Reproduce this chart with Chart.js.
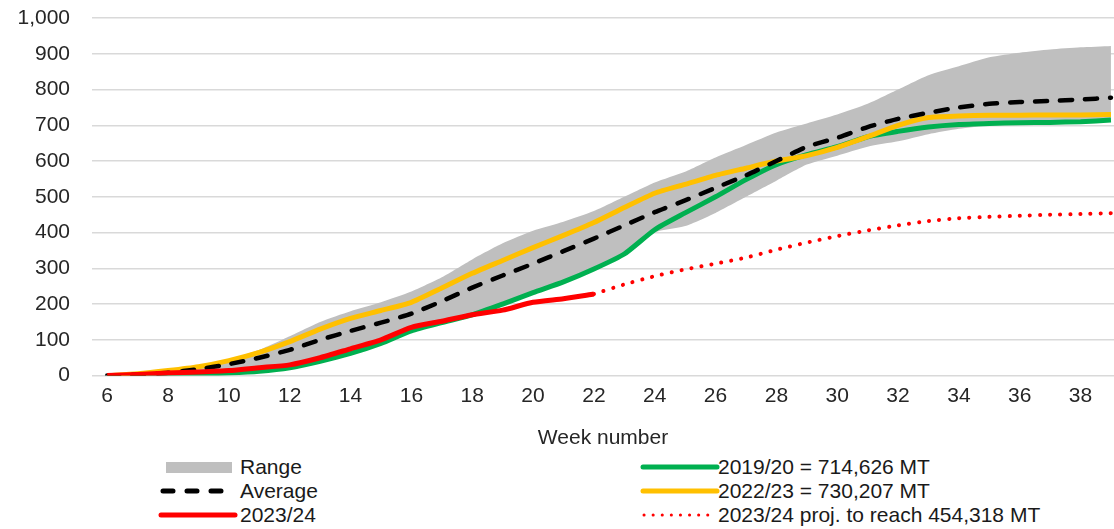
<!DOCTYPE html>
<html>
<head>
<meta charset="utf-8">
<script src="https://cdn.jsdelivr.net/npm/chart.js@4.4.1/dist/chart.umd.min.js"></script>
<style>
  html, body { margin: 0; padding: 0; background: #fff; }
  body { width: 1114px; height: 529px; position: relative; overflow: hidden;
         font-family: "Liberation Sans", Arial, sans-serif; }
  #wrap { position: absolute; left: 0; top: 0; width: 1114px; height: 455px; }
  .item { position: absolute; height: 24px; line-height: 24px; font-size: 21px;
          color: #1a1a1a; white-space: nowrap; }
  .item svg { position: absolute; left: 0; top: 0; }
  .item span { position: absolute; top: 0; }
</style>
</head>
<body>
<div id="wrap"><canvas id="chart"></canvas></div>
<div id="legend"></div>
<script>
// weeks 6..39
const weeks = [6,7,8,9,10,11,12,13,14,15,16,17,18,19,20,21,22,23,24,25,26,27,28,29,30,31,32,33,34,35,36,37,38,39];
const tickWeeks = [6,8,10,12,14,16,18,20,22,24,26,28,30,32,34,36,38];

const rangeLow  = [0,1,2,4,7,12,20,38,60,88,122,145,168,198,230,260,296,338,400,418,455,500,545,590,615,640,655,675,690,700,704,706,708,712];
const rangeHigh = [0,5,15,28,45,72,110,150,180,205,235,275,325,370,405,430,460,500,540,570,610,645,680,705,730,760,800,840,865,890,903,912,918,922];
const average   = [0,3,8,18,32,50,72,100,125,148,173,208,246,280,313,348,383,420,457,490,525,560,600,640,665,695,718,735,750,760,765,768,772,777];
const y2019_20  = [0,1,2,4,7,12,22,40,62,90,125,148,170,200,232,262,298,340,408,455,500,548,590,618,640,668,683,695,702,705,707,708,710,714.6];
const y2022_23  = [0,5,14,25,42,65,95,130,160,182,205,245,286,322,358,392,428,470,510,535,560,580,600,615,638,668,700,722,726,728,728,729,729,730.2];

const weeks2324 = [6,7,8,9,10,11,12,13,14,15,16,17,18,19,20,21,22];
const y2023_24  = [0,3,7,10,14,22,30,50,75,100,135,152,170,183,205,215,228];

const projWeeks = [22,23,24,25,26,27,28,29,30,31,32,33,34,35,36,37,38,39];
const proj2324  = [228,255,278,297,313,330,352,372,390,406,420,432,440,444,447,450,452,454.3];

const pts = (xs, ys) => xs.map((x, i) => ({ x: x, y: ys[i] }));

const RED = '#FF0000', GREEN = '#00B050', YELLOW = '#FFC000', GREY = '#BFBFBF';

const datasets = [
  { label: '2023/24 proj. to reach 454,318 MT', data: pts(projWeeks, proj2324),
    borderColor: RED, borderWidth: 4, borderDash: [0.1, 10], borderCapStyle: 'round', order: 0 },
  { label: '2023/24', data: pts(weeks2324, y2023_24), borderColor: RED, borderWidth: 5, order: 1 },
  { label: 'Average', data: pts(weeks, average), borderColor: '#000', borderWidth: 4.5,
    borderDash: [12, 13], borderCapStyle: 'round', order: 2 },
  { label: '2022/23 = 730,207 MT', data: pts(weeks, y2022_23), borderColor: YELLOW, borderWidth: 5, order: 3 },
  { label: '2019/20 = 714,626 MT', data: pts(weeks, y2019_20), borderColor: GREEN, borderWidth: 5, order: 4 },
  { label: 'low', data: pts(weeks, rangeLow), borderWidth: 0, borderColor: 'rgba(0,0,0,0)', fill: false, order: 5 },
  { label: 'Range', data: pts(weeks, rangeHigh), borderWidth: 0, borderColor: 'rgba(0,0,0,0)',
    backgroundColor: GREY, fill: '-1', order: 6 }
];

new Chart(document.getElementById('chart'), {
  type: 'line',
  data: { datasets: datasets },
  options: {
    responsive: true,
    maintainAspectRatio: false,
    animation: false,
    layout: { padding: { top: 18, right: 0, left: 0, bottom: 4 } },
    elements: { point: { radius: 0 }, line: { tension: 0.2, fill: false } },
    plugins: {
      legend: { display: false },
      tooltip: { enabled: false },
      filler: { drawTime: 'beforeDatasetsDraw' }
    },
    scales: {
      x: {
        type: 'linear', min: 5.5, max: 39.1,
        grid: { display: false },
        border: { display: false },
        afterBuildTicks: s => { s.ticks = tickWeeks.map(v => ({ value: v })); },
        ticks: { font: { family: 'Liberation Sans', size: 21 }, color: '#262626', padding: 0, maxRotation: 0 },
        title: { display: true, text: 'Week number', color: '#262626',
                 font: { family: 'Liberation Sans', size: 21 }, padding: { top: 17, bottom: 0 } }
      },
      y: {
        min: 0, max: 1000,
        afterFit: s => { s.width = 92; s.paddingTop = 0; s.paddingBottom = 0; },
        grid: { color: '#D9D9D9', lineWidth: 1.5, drawTicks: false },
        border: { display: false },
        ticks: { stepSize: 100, padding: 22, color: '#262626',
                 font: { family: 'Liberation Sans', size: 21 },
                 callback: v => v.toLocaleString('en-US') }
      }
    }
  }
});

// legend below the chart, two columns
const legendItems = [
  { label: 'Range', kind: 'box', color: GREY, x: 158, y: 455 },
  { label: 'Average', kind: 'dash', color: '#000', x: 158, y: 479 },
  { label: '2023/24', kind: 'solid', color: RED, x: 158, y: 503 },
  { label: '2019/20 = 714,626 MT', kind: 'solid', color: GREEN, x: 640, y: 455 },
  { label: '2022/23 = 730,207 MT', kind: 'solid', color: YELLOW, x: 640, y: 479 },
  { label: '2023/24 proj. to reach 454,318 MT', kind: 'dot', color: RED, x: 640, y: 503 }
];
const legend = document.getElementById('legend');
legendItems.forEach(it => {
  const d = document.createElement('div');
  d.className = 'item';
  d.style.left = it.x + 'px';
  d.style.top = it.y + 'px';
  let sw = '';
  if (it.kind === 'box') sw = `<rect x="8" y="7" width="66" height="11" fill="${it.color}"/>`;
  if (it.kind === 'solid') sw = `<line x1="3" y1="12" x2="77" y2="12" stroke="${it.color}" stroke-width="5" stroke-linecap="round"/>`;
  if (it.kind === 'dash') sw = `<line x1="5" y1="12" x2="75" y2="12" stroke="${it.color}" stroke-width="5" stroke-linecap="round" stroke-dasharray="10 14"/>`;
  if (it.kind === 'dot') sw = `<line x1="4" y1="12" x2="68" y2="12" stroke="${it.color}" stroke-width="3" stroke-linecap="round" stroke-dasharray="0.1 9"/>`;
  d.innerHTML = `<svg width="80" height="24">${sw}</svg><span style="left:${it.x < 300 ? 82 : 78}px">${it.label}</span>`;
  legend.appendChild(d);
});
</script>
</body>
</html>
